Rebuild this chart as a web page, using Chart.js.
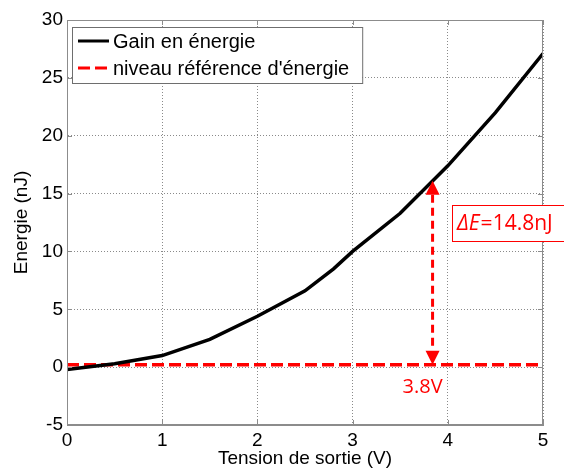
<!DOCTYPE html>
<html>
<head>
<meta charset="utf-8">
<script src="https://cdn.jsdelivr.net/npm/chart.js@4/dist/chart.umd.min.js"></script>
<style>
  html, body { margin: 0; padding: 0; background: #fff; }
  #wrap { width: 564px; height: 472px; }
</style>
</head>
<body>
<div id="wrap"><canvas id="energie" width="564" height="472"></canvas></div>
<script>
// tension de sortie (V) et gain en énergie (nJ)
const tension = [0, 0.5, 1, 1.5, 2, 2.5, 2.8, 3, 3.5, 4, 4.5, 5];
const gain = [-0.2, 0.3, 1.0, 2.4, 4.4, 6.6, 8.5, 10.0, 13.3, 17.4, 22.0, 27.1];

// niveau de référence
const refX = [0, 5];
const refY = [0.2, 0.2];

// flèche ΔE
const arrowX = 3.84;
const arrowBottom = 0.2;
const arrowTop = 16.1;
const deltaLabel = '=14.8nJ';
const voltLabel = '3.8V';

const xTicks = [0, 1, 2, 3, 4, 5];
const yTicks = [-5, 0, 5, 10, 15, 20, 25, 30];

const FONT = "'Liberation Sans', Arial, sans-serif";
const RED = '#ff0000';

const toPoints = (xs, ys) => xs.map((x, i) => ({x: x, y: ys[i]}));

const annotations = {
    id: 'annotations',
    afterDatasetsDraw(chart) {
        const c = chart.ctx;
        const xs = chart.scales.x, ys = chart.scales.y;
        const a = chart.chartArea;

        // cadre complet + petites graduations vers l'intérieur
        c.save();
        c.strokeStyle = '#8c8c8c';
        c.lineWidth = 1;
        c.strokeRect(a.left + 0.5, a.top + 0.5, a.right - a.left - 1, a.bottom - a.top - 1);
        c.beginPath();
        xTicks.forEach(v => {
            const p = Math.round(xs.getPixelForValue(v)) + 0.5;
            c.moveTo(p, a.bottom); c.lineTo(p, a.bottom - 5);
            c.moveTo(p, a.top); c.lineTo(p, a.top + 5);
        });
        yTicks.forEach(v => {
            const p = Math.round(ys.getPixelForValue(v)) + 0.5;
            c.moveTo(a.left, p); c.lineTo(a.left + 5, p);
            c.moveTo(a.right, p); c.lineTo(a.right - 5, p);
        });
        c.stroke();

        // flèche double
        const px = xs.getPixelForValue(arrowX);
        const y0 = ys.getPixelForValue(arrowBottom);
        const y1 = ys.getPixelForValue(arrowTop);
        const head = 14;
        c.strokeStyle = RED;
        c.fillStyle = RED;
        c.lineWidth = 3;
        c.setLineDash([8, 5]);
        c.beginPath();
        c.moveTo(px, y1 + head);
        c.lineTo(px, y0 - head);
        c.stroke();
        c.setLineDash([]);
        c.beginPath();
        c.moveTo(px, y1);
        c.lineTo(px - 7, y1 + head);
        c.lineTo(px + 7, y1 + head);
        c.closePath();
        c.fill();
        c.beginPath();
        c.moveTo(px, y0);
        c.lineTo(px - 7, y0 - head);
        c.lineTo(px + 7, y0 - head);
        c.closePath();
        c.fill();

        // texte 3.8V
        c.font = "20px 'Open Sans', sans-serif";
        c.textAlign = 'center';
        c.textBaseline = 'middle';
        c.fillText(voltLabel, px - 10, y0 + 22);

        // boîte ΔE
        const bx = 452, by = 205, bw = 130, bh = 36;
        c.fillStyle = '#fff';
        c.fillRect(bx, by, bw, bh);
        c.lineWidth = 1;
        c.strokeRect(bx + 0.5, by + 0.5, bw, bh);
        c.fillStyle = RED;
        c.textAlign = 'left';
        c.font = "italic 21px 'Open Sans', sans-serif";
        c.fillText('\u0394E', bx + 5, by + bh / 2 + 1);
        const w = c.measureText('\u0394E').width;
        c.font = "21px 'Open Sans', sans-serif";
        c.fillText(deltaLabel, bx + 5 + w + 1, by + bh / 2 + 1);

        // légende
        const lx = a.left + 5, ly = a.top + 7;
        c.font = '20px ' + FONT;
        const labels = chart.data.datasets.map(d => d.label);
        const tw = Math.max(...labels.map(t => c.measureText(t).width));
        const lw = 44 + tw + 10, lh = 56;
        c.fillStyle = '#fff';
        c.fillRect(lx, ly, lw, lh);
        c.strokeStyle = '#6e6e6e';
        c.lineWidth = 1;
        c.strokeRect(lx + 0.5, ly + 0.5, lw, lh);
        chart.data.datasets.forEach((d, i) => {
            const yy = ly + 14 + i * 27;
            c.strokeStyle = d.borderColor;
            c.lineWidth = 3;
            c.setLineDash(d.borderDash || []);
            c.beginPath();
            c.moveTo(lx + 6, yy);
            c.lineTo(lx + 37, yy);
            c.stroke();
            c.setLineDash([]);
            c.fillStyle = '#000';
            c.textAlign = 'left';
            c.fillText(d.label, lx + 41, yy + 1);
        });
        c.restore();
    }
};

new Chart(document.getElementById('energie').getContext('2d'), {
    type: 'scatter',
    data: {
        datasets: [{
            label: 'Gain en énergie',
            data: toPoints(tension, gain),
            showLine: true,
            borderColor: '#000',
            borderWidth: 3.5,
            pointRadius: 0,
            tension: 0
        }, {
            label: "niveau référence d'énergie",
            data: toPoints(refX, refY),
            showLine: true,
            borderColor: RED,
            borderWidth: 3.5,
            borderDash: [12, 5],
            pointRadius: 0
        }]
    },
    options: {
        responsive: false,
        animation: false,
        layout: { padding: { top: 20, right: 21, left: 0, bottom: 0 } },
        plugins: { legend: { display: false }, tooltip: { enabled: false } },
        scales: {
            x: {
                type: 'linear',
                min: 0, max: 5,
                afterBuildTicks: s => { s.ticks = xTicks.map(v => ({value: v})); },
                afterFit: s => { s.height = 47; },
                grid: { color: '#8a8a8a', drawTicks: false },
                border: { display: true, color: '#8c8c8c', dash: [1, 2] },
                ticks: { color: '#000', padding: 4, font: { family: FONT, size: 19 } },
                title: { display: true, text: 'Tension de sortie (V)', color: '#000',
                         padding: { top: 0, bottom: 2 }, font: { family: FONT, size: 19 } }
            },
            y: {
                min: -5, max: 30,
                afterBuildTicks: s => { s.ticks = yTicks.map(v => ({value: v})); },
                afterFit: s => { s.width = 67; },
                grid: { color: '#8a8a8a', drawTicks: false },
                border: { display: true, color: '#8c8c8c', dash: [1, 2] },
                ticks: { color: '#000', padding: 4, font: { family: FONT, size: 19 } },
                title: { display: true, text: 'Energie (nJ)', color: '#000',
                         padding: { top: 10, bottom: 0 }, font: { family: FONT, size: 19 } }
            }
        }
    },
    plugins: [annotations]
});
</script>
</body>
</html>
